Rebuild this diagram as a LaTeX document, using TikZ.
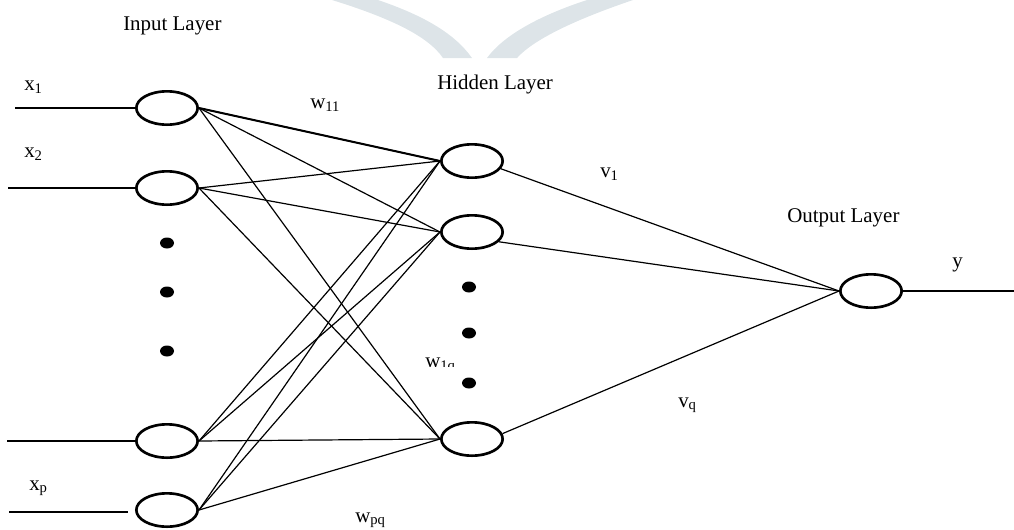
\documentclass[tikz,border=0pt]{standalone}
\usepackage{fontspec}
\setmainfont{Liberation Serif}
\usetikzlibrary{shapes.geometric}
\definecolor{wmark}{RGB}{221,228,232}
\tikzset{
  neuron/.style={draw, ellipse, line width=2pt, minimum width=46pt, minimum height=25pt, inner sep=0pt},
  edge/.style={line width=0.9pt},
  lbl/.style={anchor=base west, inner sep=0pt, font=\fontsize{15.7}{19}\selectfont},
}
\begin{document}
\begin{tikzpicture}[x=0.75pt,y=0.75pt,yscale=-1,xscale=1]
\useasboundingbox (0,0) rectangle (1014,529);

%Shape: watermark bands
\fill [wmark] (332,0) .. controls (390,18) and (428,36) .. (443,58) -- (472,58) .. controls (455,34) and (425,16) .. (378,0) -- cycle ;
\fill [wmark] (487,58) .. controls (503,36) and (538,16) .. (587,0) -- (633,0) .. controls (580,18) and (535,38) .. (517,58) -- cycle ;

%Shape: Ellipses
\node [neuron] (in1) at (167,108) {};
\node [neuron] (in2) at (167,188) {};
\node [neuron] (in3) at (167,441) {};
\node [neuron] (in4) at (167,510) {};
\node [neuron] (hid1) at (472,161) {};
\node [neuron] (hid2) at (472,232) {};
\node [neuron] (hid3) at (472,439) {};
\node [neuron] (out) at (871,291) {};

%Dots
\foreach \y in {243,292,351} \fill (167,\y) ellipse [x radius=7, y radius=5.5] ;
\foreach \y in {287,333,383} \fill (469,\y) ellipse [x radius=7, y radius=5.5] ;

%Straight Lines: inputs
\coordinate (x1s) at (15,108);
\coordinate (x2s) at (8,188);
\coordinate (x3s) at (7,441);
\coordinate (x4s) at (9,512);
\coordinate (x4e) at (128,512);
\draw [edge] (x1s) -- (in1.west) ;
\draw [edge] (x2s) -- (in2.west) ;
\draw [edge] (x3s) -- (in3.west) ;
\draw [edge] (x4s) -- (x4e) ;

%Straight Lines: input to hidden
\foreach \i in {in1,in2,in3,in4}
  \foreach \h in {hid1,hid2,hid3}
    \draw [edge] (\i.east) -- (\h.west) ;
\draw [line width=1.5pt] (in1.east) -- (hid1.west) ;

%Straight Lines: hidden to output
\foreach \h/\a in {hid1/-15,hid2/-20,hid3/10}
  \draw [edge] (\h.\a) -- (out.west) ;
\coordinate (ye) at (1014,291);
\draw [edge] (out.east) -- (ye) ;

% Text Node
\node [lbl] (tin) at (123,30) {Input Layer};
\node [lbl] (thid) at (437,89) {Hidden Layer};
\node [lbl] (tout) at (787,222) {Output Layer};
\node [lbl] (tx1) at (24,90) {x\textsubscript{1}};
\node [lbl] (tx2) at (24,157) {x\textsubscript{2}};
\node [lbl] (txp) at (29,490) {x\textsubscript{p}};
\node [lbl] (tw11) at (310,108) {w\textsubscript{11}};
\node [lbl] (tv1) at (600,177) {v\textsubscript{1}};
\node [lbl] (ty) at (952,267) {y};
\node [lbl] (tvq) at (678,407) {v\textsubscript{q}};
\node [lbl] (twpq) at (355,522) {w\textsubscript{pq}};
\begin{scope}
\clip (400,340) rectangle (470,366);
\node [lbl] (tw1q) at (425,367) {w\textsubscript{1q}};
\end{scope}

\end{tikzpicture}
\end{document}
